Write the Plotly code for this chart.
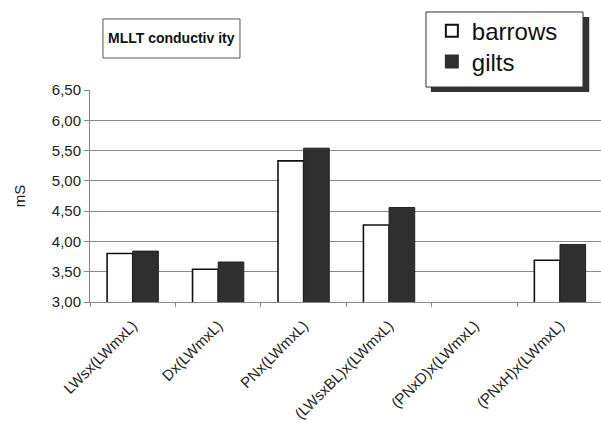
import plotly.graph_objects as go

categories = ["LWsx(LWmxL)", "Dx(LWmxL)", "PNx(LWmxL)", "(LWsxBL)x(LWmxL)", "(PNxD)x(LWmxL)", "(PNxH)x(LWmxL)"]
barrows = [3.80, 3.54, 5.33, 4.27, None, 3.69]
gilts = [3.84, 3.66, 5.54, 4.56, None, 3.95]
y_ticks = [3.0, 3.5, 4.0, 4.5, 5.0, 5.5, 6.0, 6.5]

FONT = "Liberation Sans"
DARK = "#2f2f2f"

fig = go.Figure()
fig.add_trace(go.Bar(x=categories, y=barrows, name="barrows", showlegend=False,
                     marker=dict(color="white", line=dict(color="#111", width=1.6))))
fig.add_trace(go.Bar(x=categories, y=gilts, name="gilts", showlegend=False,
                     marker=dict(color=DARK, line=dict(color="#222", width=1))))
# legend entries (one legend each, to control spacing)
fig.add_trace(go.Scatter(x=[None], y=[None], mode="markers", name="barrows", legend="legend",
                         marker=dict(symbol="square", size=16, color="white", line=dict(color="#111", width=1.5))))
fig.add_trace(go.Scatter(x=[None], y=[None], mode="markers", name="gilts", legend="legend2",
                         marker=dict(symbol="square", size=16, color=DARK, line=dict(color=DARK, width=1))))

leg_common = dict(x=0.669, xanchor="left", yanchor="middle", bgcolor="rgba(0,0,0,0)",
                  borderwidth=0, font=dict(size=24, family=FONT, color="#111"),
                  itemsizing="constant")

fig.update_layout(
    width=601, height=425,
    margin=dict(l=90, r=0, t=90, b=123),
    paper_bgcolor="white", plot_bgcolor="white",
    separators=",.",
    font=dict(family=FONT, color="#222"),
    barmode="group", bargap=0.4, bargroupgap=0,
    showlegend=True,
    legend=dict(y=1.278, **leg_common),
    legend2=dict(y=1.132, **leg_common),
    xaxis=dict(type="category", range=[-0.5, 5.48], showline=True, linecolor="#888",
               ticks="outside", ticklen=4, tickcolor="#888", tickson="boundaries",
               tickangle=-45, tickfont=dict(size=15, family=FONT, color="#222"),
               ticklabelstandoff=8, showgrid=False),
    yaxis=dict(range=[3, 6.5], tickvals=y_ticks, tickformat=".2f", showline=True,
               linecolor="#888", ticks="outside", ticklen=5, tickcolor="#888",
               showgrid=True, gridcolor="#8a8a8a", gridwidth=1,
               tickfont=dict(size=15, family=FONT, color="#222"),
               title=dict(text="mS", font=dict(size=15, family=FONT, color="#222"), standoff=22),
               zeroline=False),
    shapes=[
        # legend shadow and box
        dict(type="rect", xref="paper", yref="paper", x0=0.667, x1=0.977, y0=0.991, y1=1.344,
             fillcolor="#333", line=dict(width=0), layer="above"),
        dict(type="rect", xref="paper", yref="paper", x0=0.6575, x1=0.9648, y0=1.014, y1=1.368,
             fillcolor="white", line=dict(color="#333", width=1), layer="above"),
        # title box
        dict(type="rect", xref="paper", yref="paper", x0=0.0254, x1=0.2935, y0=1.151, y1=1.335,
             fillcolor="white", line=dict(color="#555", width=1), layer="above"),
    ],
    annotations=[dict(text="<b>MLLT conductiv ity</b>", xref="paper", yref="paper",
                      x=0.159, y=1.243, xanchor="center", yanchor="middle", showarrow=False,
                      font=dict(size=14, family=FONT, color="#111"))],
)

fig.write_html("out.html")
